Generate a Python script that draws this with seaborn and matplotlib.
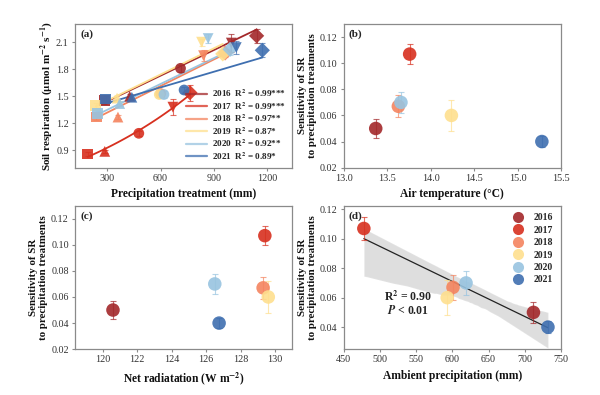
import numpy as np
import pandas as pd
import matplotlib
matplotlib.use('Agg')
import matplotlib.pyplot as plt
import seaborn as sns
from matplotlib.lines import Line2D

# ---------------- data ----------------
years = ['2016', '2017', '2018', '2019', '2020', '2021']
colors = ['#a3282a', '#d7301f', '#f4845f', '#fedf8e', '#98c4e0', '#3f6fb0']
r2_labels = ['0.99***', '0.99***', '0.97**', '0.87*', '0.92**', '0.89*']
treat_markers = ['s', '^', 'o', 'v', 'D']   # -60%, -40%, ambient, +40%, +60%

# panel (a): precipitation treatment (mm) vs soil respiration
precip = {
    '2016': [285, 427, 712, 997, 1139],
    '2017': [191, 287, 478, 669, 765],
    '2018': [240, 361, 601, 841, 962],
    '2019': [237, 356, 593, 830, 949],
    '2020': [248, 371, 619, 867, 990],
    '2021': [293, 439, 732, 1025, 1171],
}
soil_resp = {
    '2016': [1.45, 1.50, 1.81, 2.09, 2.17],
    '2017': [0.86, 0.89, 1.09, 1.38, 1.54],
    '2018': [1.27, 1.27, 1.53, 1.95, 1.98],
    '2019': [1.40, 1.48, 1.52, 2.10, 1.97],
    '2020': [1.31, 1.42, 1.52, 2.14, 2.02],
    '2021': [1.47, 1.49, 1.57, 2.04, 2.01],
}
soil_err = {
    '2016': [0.03, 0.03, 0.04, 0.10, 0.08],
    '2017': [0.02, 0.02, 0.03, 0.09, 0.09],
    '2018': [0.03, 0.02, 0.04, 0.06, 0.04],
    '2019': [0.03, 0.03, 0.03, 0.04, 0.04],
    '2020': [0.03, 0.03, 0.04, 0.05, 0.06],
    '2021': [0.03, 0.03, 0.03, 0.07, 0.08],
}
# fitted lines read at the lowest / highest treatment (linear years)
fit_lo = {'2016': 1.43, '2018': 1.26, '2019': 1.39, '2020': 1.30, '2021': 1.42}
fit_hi = {'2016': 2.24, '2018': 1.97, '2019': 2.08, '2020': 2.01, '2021': 1.93}

# panels (b)-(d): sensitivity of SR
sensitivity = [0.050, 0.107, 0.067, 0.060, 0.070, 0.040]
sens_err = [0.007, 0.0075, 0.0085, 0.012, 0.008, 0.004]
air_temp = [13.37, 13.76, 13.63, 14.24, 13.66, 15.28]
net_rad = [120.6, 129.4, 129.3, 129.6, 126.5, 126.75]
ambient_precip = [712, 478, 601, 593, 619, 732]

# ---------------- style ----------------
sns.set_style('ticks')
plt.rcParams['font.family'] = ['Liberation Serif', 'DejaVu Serif']
plt.rcParams['mathtext.fontset'] = 'stix'
plt.rcParams['font.size'] = 7.5
plt.rcParams['axes.edgecolor'] = '#8a8a8a'
plt.rcParams['axes.linewidth'] = 0.9
plt.rcParams['xtick.color'] = '#8a8a8a'
plt.rcParams['ytick.color'] = '#8a8a8a'
plt.rcParams['xtick.labelcolor'] = '#333333'
plt.rcParams['ytick.labelcolor'] = '#333333'
plt.rcParams['xtick.major.size'] = 2.5
plt.rcParams['ytick.major.size'] = 2.5

fig, axes = plt.subplots(2, 2, figsize=(6, 3.95), dpi=100)
plt.subplots_adjust(left=0.125, right=0.935, top=0.939, bottom=0.116,
                    wspace=0.235, hspace=0.265)
ax_a, ax_b = axes[0]
ax_c, ax_d = axes[1]

lab_kw = dict(fontsize=8.3, fontweight='bold', color='#111111')

# ---------------- (a) ----------------
rows = []
for y in years:
    for k in range(5):
        rows.append({'year': y, 'treat': k, 'precip': precip[y][k],
                     'sr': soil_resp[y][k], 'err': soil_err[y][k]})
dfa = pd.DataFrame(rows)
pal = dict(zip(years, colors))

handles = []
for i, y in enumerate(years):
    xs = np.array(precip[y], dtype=float)
    if y == '2017':
        b, a = np.polyfit(xs, np.log(soil_resp[y]), 1)
        xx = np.linspace(xs.min(), xs.max(), 60)
        ax_a.plot(xx, np.exp(a + b * xx), color=colors[i], lw=1.3, zorder=2)
    else:
        ax_a.plot([xs.min(), xs.max()], [fit_lo[y], fit_hi[y]],
                  color=colors[i], lw=1.3, zorder=2)
    handles.append(Line2D([0], [0], color=colors[i], lw=1.6, alpha=0.75))

for i, y in enumerate(years):
    d = dfa[dfa['year'] == y]
    ax_a.errorbar(d['precip'], d['sr'], yerr=d['err'], fmt='none',
                  ecolor=colors[i], alpha=0.7, elinewidth=0.8, capsize=2,
                  capthick=0.8, zorder=3)
sns.scatterplot(data=dfa, x='precip', y='sr', hue='year', style='treat',
                palette=pal, markers=treat_markers, s=60, alpha=0.9,
                edgecolor='none', legend=False, ax=ax_a, zorder=4)

ax_a.set_xlim(120, 1340)
ax_a.set_ylim(0.71, 2.3)
ax_a.set_xticks([300, 600, 900, 1200])
ax_a.set_yticks([0.9, 1.2, 1.5, 1.8, 2.1])
ax_a.set_xlabel('Precipitation treatment (mm)', **lab_kw)
ax_a.set_ylabel(r'Soil respiration ($\mathbf{\mu}$mol m$^{\mathbf{-2}}$ s$^{\mathbf{-1}}$)',
                fontsize=8, fontweight='bold', color='#111111')
ax_a.yaxis.set_label_coords(-0.09, 0.5)
leg_labels = [f'{y}  R$^{{\\mathbf{{2}}}}$ = {r}' for y, r in zip(years, r2_labels)]
leg = ax_a.legend(handles, leg_labels, loc='lower right', frameon=False,
                  fontsize=6.6, handlelength=2.3, labelspacing=0.12,
                  handletextpad=0.6, borderaxespad=0.25)
for t in leg.get_texts():
    t.set_fontweight('bold')

# ---------------- (b), (c), (d) ----------------
dfs = pd.DataFrame({'year': years, 'sens': sensitivity, 'err': sens_err,
                    'temp': air_temp, 'rad': net_rad, 'amb': ambient_precip})

sens_label = 'Sensitivity of SR\nto precipitation treatments'

def sens_panel(ax, xcol):
    for i, y in enumerate(years):
        r = dfs.iloc[i]
        ax.errorbar(r[xcol], r['sens'], yerr=r['err'], fmt='none',
                    ecolor=colors[i], alpha=0.7, elinewidth=0.8, capsize=2,
                    capthick=0.8, zorder=3)
    sns.scatterplot(data=dfs, x=xcol, y='sens', hue='year', palette=pal,
                    s=95, alpha=0.9, edgecolor='none', legend=False,
                    ax=ax, zorder=4)
    ax.set_ylabel(sens_label, linespacing=1.2, fontsize=7.8, fontweight='bold',
                  color='#111111')
    ax.yaxis.set_label_coords(-0.122, 0.5)

sens_panel(ax_b, 'temp')
ax_b.set_xlim(13.0, 15.5)
ax_b.set_ylim(0.02, 0.13)
ax_b.set_yticks([0.02, 0.04, 0.06, 0.08, 0.10, 0.12])
ax_b.set_xlabel('Air temperature (°C)', **lab_kw)

sens_panel(ax_c, 'rad')
ax_c.set_xlim(118.4, 131)
ax_c.set_ylim(0.02, 0.13)
ax_c.set_xticks([120, 122, 124, 126, 128, 130])
ax_c.set_yticks([0.02, 0.04, 0.06, 0.08, 0.10, 0.12])
ax_c.set_xlabel(r'Net radiatation (W m$^{\mathbf{-2}}$)', **lab_kw)

sns.regplot(data=dfs, x='amb', y='sens', scatter=False, ci=95, n_boot=2000,
            seed=3, color='#222222', line_kws={'lw': 0.9}, ax=ax_d)
sens_panel(ax_d, 'amb')
ax_d.set_xlim(450, 750)
ax_d.set_ylim(0.025, 0.1225)
ax_d.set_yticks([0.04, 0.06, 0.08, 0.10, 0.12])
ax_d.set_xlabel('Ambient precipitation (mm)', **lab_kw)
ax_d.text(539, 0.0607, r'R$^{\mathbf{2}}$ = 0.90', ha='center', va='center',
          fontsize=8.5, fontweight='bold')
ax_d.text(539, 0.0515, r'$\boldsymbol{P}$ < 0.01', ha='center', va='center',
          fontsize=8.5, fontweight='bold')
dh = [Line2D([0], [0], marker='o', ls='none', markersize=8,
             markerfacecolor=c, markeredgecolor='none', alpha=0.9) for c in colors]
leg_d = ax_d.legend(dh, years, loc='upper right', frameon=False, fontsize=7,
                    handletextpad=0.6, labelspacing=0.35, borderaxespad=0.4)
for t in leg_d.get_texts():
    t.set_fontweight('bold')

# panel letters and frames
for ax, lab in zip([ax_a, ax_b, ax_c, ax_d], ['(a)', '(b)', '(c)', '(d)']):
    ax.text(0.025, 0.96, lab, transform=ax.transAxes, ha='left', va='top',
            fontsize=8, fontweight='bold')
    ax.tick_params(labelsize=7.3, width=0.8, pad=2)
    for sp in ax.spines.values():
        sp.set_visible(True)

fig.savefig('out.png', dpi=100)
